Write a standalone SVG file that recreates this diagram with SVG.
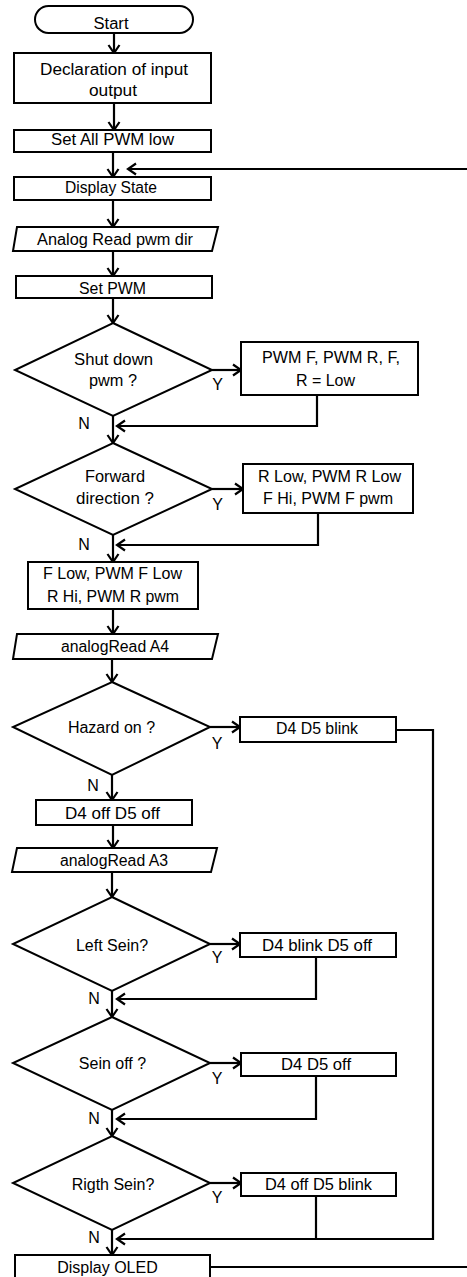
<svg xmlns="http://www.w3.org/2000/svg" width="467" height="1277" viewBox="0 0 467 1277">
<style>
.s{fill:#fff;stroke:#000;stroke-width:2}
.l{fill:none;stroke:#000;stroke-width:2.2}
.a{marker-end:url(#ah)}
text{font-family:"Liberation Sans",Arial,sans-serif;font-size:16px;fill:#000;text-anchor:middle}
</style>
<defs>
<marker id="ah" markerUnits="userSpaceOnUse" markerWidth="14" markerHeight="14" refX="10" refY="6" orient="auto" overflow="visible">
<path d="M2,0.5 L10,6 L2,11.5" fill="none" stroke="#000" stroke-width="2.2"/>
</marker>
</defs>
<rect width="467" height="1277" fill="#fff"/>
<g id="connectors">
<line class="l a" x1="114" y1="33" x2="114" y2="53"/>
<line class="l a" x1="114" y1="103" x2="114" y2="130"/>
<line class="l a" x1="113" y1="152" x2="113" y2="177"/>
<line class="l a" x1="467" y1="169" x2="128" y2="169"/>
<line class="l a" x1="113" y1="200" x2="113" y2="227"/>
<line class="l a" x1="113" y1="251" x2="113" y2="276"/>
<line class="l a" x1="113" y1="298" x2="113" y2="323"/>
<line class="l a" x1="212" y1="370" x2="241" y2="370"/>
<polyline class="l a" points="317,395 317,426 117,426"/>
<line class="l a" x1="113" y1="416" x2="113" y2="443"/>
<line class="l a" x1="212" y1="489" x2="243" y2="489"/>
<polyline class="l a" points="318,513 318,545 117,545"/>
<line class="l a" x1="113" y1="535" x2="113" y2="562"/>
<line class="l a" x1="113" y1="609" x2="113" y2="634"/>
<line class="l a" x1="112" y1="659" x2="112" y2="682"/>
<line class="l a" x1="210" y1="727" x2="240" y2="727"/>
<polyline class="l a" points="396,730 433,730 433,1239 117,1239"/>
<line class="l a" x1="112" y1="775" x2="112" y2="800"/>
<line class="l a" x1="113" y1="825" x2="113" y2="848"/>
<line class="l a" x1="112" y1="872" x2="112" y2="897"/>
<line class="l a" x1="210" y1="944" x2="240" y2="944"/>
<polyline class="l a" points="316,957 316,999 117,999"/>
<line class="l a" x1="112" y1="991" x2="112" y2="1017"/>
<line class="l a" x1="210" y1="1063" x2="241" y2="1063"/>
<polyline class="l a" points="316,1076 316,1119 117,1119"/>
<line class="l a" x1="112" y1="1110" x2="112" y2="1136"/>
<line class="l a" x1="210" y1="1183" x2="241" y2="1183"/>
<polyline class="l" points="316,1196 316,1239"/>
<line class="l a" x1="112" y1="1230" x2="112" y2="1255"/>
<line class="l" x1="210" y1="1267" x2="467" y2="1267"/>
<text x="217.5" y="390">Y</text>
<text x="84" y="429">N</text>
<text x="217.5" y="510">Y</text>
<text x="84" y="550">N</text>
<text x="217" y="749">Y</text>
<text x="93" y="791">N</text>
<text x="217" y="963">Y</text>
<text x="94" y="1004">N</text>
<text x="217" y="1084">Y</text>
<text x="94" y="1124">N</text>
<text x="217" y="1203">Y</text>
<text x="94" y="1243">N</text>
</g>
<g id="start"><rect class="s" x="35" y="6" width="158" height="27" rx="13.5"/><text x="111" y="29" textLength="35" lengthAdjust="spacingAndGlyphs">Start</text></g>
<g id="decl"><rect class="s" x="14" y="53" width="197" height="50"/><text x="114" y="75" textLength="148" lengthAdjust="spacingAndGlyphs">Declaration of input</text><text x="113" y="96" textLength="48" lengthAdjust="spacingAndGlyphs">output</text></g>
<g id="setall"><rect class="s" x="14" y="130" width="197" height="22"/><text x="112.5" y="145" textLength="123" lengthAdjust="spacingAndGlyphs">Set All PWM low</text></g>
<g id="dispstate"><rect class="s" x="14" y="177" width="197" height="23"/><text x="111" y="193" textLength="92" lengthAdjust="spacingAndGlyphs">Display State</text></g>
<g id="readpwm"><polygon class="s" points="17,227 218,227 212,251 13,251"/><text x="115" y="245" textLength="156" lengthAdjust="spacingAndGlyphs">Analog Read pwm dir</text></g>
<g id="setpwm"><rect class="s" x="16" y="276" width="196" height="22"/><text x="112.5" y="294" textLength="67" lengthAdjust="spacingAndGlyphs">Set PWM</text></g>
<g id="shutdown"><polygon class="s" points="113,323 212,370 113,416 15,370"/><text x="113.5" y="365" textLength="79" lengthAdjust="spacingAndGlyphs">Shut down</text><text x="113" y="386" textLength="48" lengthAdjust="spacingAndGlyphs">pwm ?</text></g>
<g id="alllow"><rect class="s" x="241" y="342" width="177" height="53"/><text x="331" y="363" textLength="138" lengthAdjust="spacingAndGlyphs">PWM F, PWM R, F,</text><text x="325.5" y="386">R = Low</text></g>
<g id="forward"><polygon class="s" points="113,443 212,489 113,535 15,489"/><text x="115" y="482" textLength="60" lengthAdjust="spacingAndGlyphs">Forward</text><text x="115" y="504" textLength="78" lengthAdjust="spacingAndGlyphs">direction ?</text></g>
<g id="fwdset"><rect class="s" x="243" y="464" width="170" height="49"/><text x="329.5" y="482" textLength="143" lengthAdjust="spacingAndGlyphs">R Low, PWM R Low</text><text x="328" y="504" textLength="130" lengthAdjust="spacingAndGlyphs">F Hi, PWM F pwm</text></g>
<g id="revset"><rect class="s" x="28" y="562" width="170" height="47"/><text x="112.5" y="579" textLength="139" lengthAdjust="spacingAndGlyphs">F Low, PWM F Low</text><text x="113" y="602" textLength="132" lengthAdjust="spacingAndGlyphs">R Hi, PWM R pwm</text></g>
<g id="reada4"><polygon class="s" points="17,634 218,634 212,659 13,659"/><text x="115" y="652" textLength="108" lengthAdjust="spacingAndGlyphs">analogRead A4</text></g>
<g id="hazard"><polygon class="s" points="112,682 210,727 112,775 13,727"/><text x="111.5" y="733">Hazard on ?</text></g>
<g id="blinkboth"><rect class="s" x="240" y="717" width="156" height="25"/><text x="317" y="734" textLength="82" lengthAdjust="spacingAndGlyphs">D4 D5 blink</text></g>
<g id="offboth"><rect class="s" x="36" y="800" width="156" height="25"/><text x="112.5" y="819" textLength="95" lengthAdjust="spacingAndGlyphs">D4 off D5 off</text></g>
<g id="reada3"><polygon class="s" points="17,848 217,848 211,872 12,872"/><text x="114" y="866" textLength="108" lengthAdjust="spacingAndGlyphs">analogRead A3</text></g>
<g id="left"><polygon class="s" points="112,897 210,944 112,991 13,944"/><text x="112" y="951">Left Sein?</text></g>
<g id="blinkleft"><rect class="s" x="240" y="933" width="156" height="24"/><text x="317" y="951" textLength="110" lengthAdjust="spacingAndGlyphs">D4 blink D5 off</text></g>
<g id="seinoff"><polygon class="s" points="112,1017 210,1063 112,1110 13,1063"/><text x="112.5" y="1069">Sein off ?</text></g>
<g id="offboth2"><rect class="s" x="241" y="1053" width="155" height="23"/><text x="316" y="1070" textLength="70" lengthAdjust="spacingAndGlyphs">D4 D5 off</text></g>
<g id="right"><polygon class="s" points="112,1136 210,1183 112,1230 13,1183"/><text x="113" y="1190">Rigth Sein?</text></g>
<g id="blinkright"><rect class="s" x="241" y="1173" width="155" height="23"/><text x="318.5" y="1190" textLength="107" lengthAdjust="spacingAndGlyphs">D4 off D5 blink</text></g>
<g id="oled"><rect class="s" x="15" y="1255" width="195" height="35"/><text x="107.5" y="1273">Display OLED</text></g>
</svg>
